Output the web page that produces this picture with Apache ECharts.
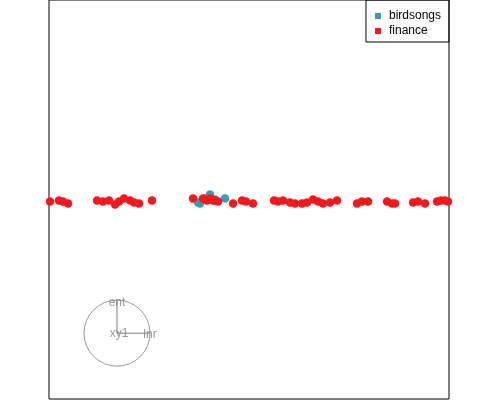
<!DOCTYPE html>
<html>
<head>
<meta charset="utf-8">
<script src="https://cdn.jsdelivr.net/npm/echarts@6/dist/echarts.min.js"></script>
<style>html,body{margin:0;padding:0;background:#fff;}#c{width:500px;height:400px;}</style>
</head>
<body>
<div id="c"></div>
<script>
const categories = ['birdsongs', 'finance'];
const birdsongsX = [-0.255, -0.245, -0.22, -0.195, -0.17, -0.12];
const birdsongsY = [-0.015, -0.02, 0.005, 0.025, 0, 0.005];
const financeX = [-0.995, -0.95, -0.93, -0.905, -0.76, -0.73, -0.7, -0.67, -0.65, -0.625, -0.595, -0.575, -0.55, -0.485,
  -0.28, -0.23, -0.21, -0.195, -0.18, -0.17, -0.155, -0.08, -0.035, -0.015, 0.02, 0.125, 0.145, 0.17, 0.205, 0.23,
  0.265, 0.29, 0.32, 0.345, 0.37, 0.405, 0.44, 0.54, 0.565, 0.595, 0.69, 0.715, 0.73, 0.82, 0.845, 0.88, 0.94, 0.96, 0.98, 0.995];
const financeY = [-0.01, -0.005, -0.01, -0.02, -0.005, -0.01, -0.005, -0.025, -0.01, 0.005, -0.005, -0.015, -0.02, -0.005,
  0.005, 0.005, -0.005, 0.005, -0.005, -0.005, -0.01, -0.02, -0.005, -0.01, -0.02, -0.005, -0.01, -0.005, -0.015, -0.02,
  -0.02, -0.015, 0, -0.01, -0.02, -0.015, -0.005, -0.02, -0.01, -0.01, -0.01, -0.02, -0.02, -0.015, -0.01, -0.02, -0.01, -0.005, -0.005, -0.01];
// projection axes widget
const axisNames = ['ent', 'lnr', 'xy1'];
const axisDX = [0, 1, 0.06];
const axisDY = [1, 0, 0.04];
const widgetCenter = [-0.66, -0.67];
const widgetRadius = 0.165;

const colors = ['#3B9AB2', '#F5181C'];
const grey = '#7F7F7F';

function pts(xs, ys) { return xs.map((x, i) => [x, ys[i]]); }

const axisLineSeries = axisNames.map((n, i) => ({
  type: 'line', name: 'axis_' + n, silent: true, showSymbol: false, symbol: 'none',
  lineStyle: { color: grey, width: 1 }, z: 5,
  data: [widgetCenter, [widgetCenter[0] + axisDX[i] * widgetRadius, widgetCenter[1] + axisDY[i] * widgetRadius]]
}));

const chart = echarts.init(document.getElementById('c'), null, { renderer: 'canvas' });
chart.setOption({
  animation: false,
  color: colors,
  grid: { left: 49, top: -1, width: 400, height: 400, show: true, borderColor: '#000', borderWidth: 1, backgroundColor: 'transparent' },
  xAxis: { type: 'value', min: -1, max: 1, show: false },
  yAxis: { type: 'value', min: -1, max: 1, show: false },
  legend: {
    data: categories, orient: 'vertical', right: 51, top: 0,
    icon: 'rect', itemWidth: 6, itemHeight: 6, itemGap: 1,
    padding: [9, 8, 4, 9], borderColor: '#000', borderWidth: 1,
    textStyle: { fontFamily: 'Liberation Sans, Arial', fontSize: 12, color: '#000', lineHeight: 14, padding: [0, 0, 0, 3] }
  },
  series: [
    { type: 'scatter', name: categories[0], data: pts(birdsongsX, birdsongsY), symbolSize: 8.5, itemStyle: { color: colors[0], opacity: 1 }, z: 2 },
    { type: 'scatter', name: categories[1], data: pts(financeX, financeY), symbolSize: 8.5, itemStyle: { color: colors[1], opacity: 1 }, z: 3 },
    { type: 'scatter', name: 'widget_circle', silent: true, data: [widgetCenter], symbolSize: widgetRadius * 400,
      itemStyle: { color: 'transparent', borderColor: grey, borderWidth: 1 }, z: 4 },
    ...axisLineSeries,
    { type: 'scatter', name: 'axis_labels', silent: true, z: 6, symbolSize: 1,
      itemStyle: { color: 'transparent' },
      data: axisNames.map((n, i) => ({ name: n, value: [widgetCenter[0] + axisDX[i] * widgetRadius, widgetCenter[1] + axisDY[i] * widgetRadius] })),
      label: { show: true, position: 'inside', offset: [0, 2], formatter: p => p.name, color: grey, fontSize: 12, fontFamily: 'Liberation Sans, Arial' } }
  ]
});
</script>
</body>
</html>
